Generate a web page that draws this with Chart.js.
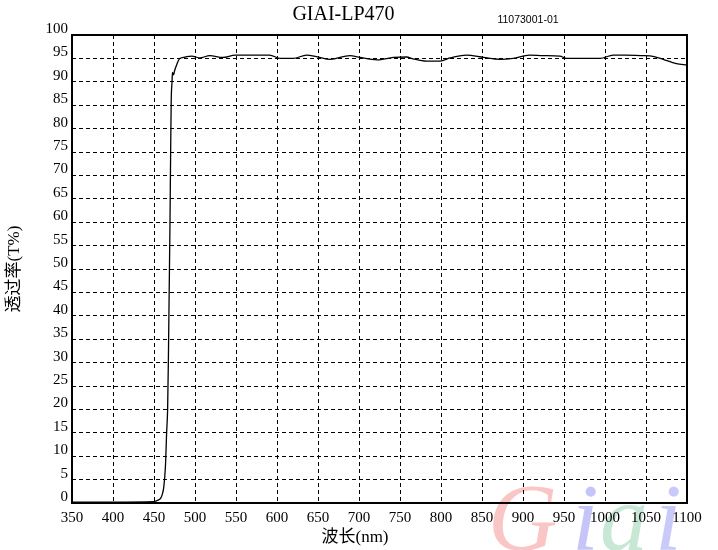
<!DOCTYPE html>
<html lang="zh-cn">
<head>
  <meta charset="UTF-8" />
  <title>GIAI-LP470</title>
  <script src="https://cdn.jsdelivr.net/npm/chart.js"></script>
  <style>
    body { margin: 0; background: #fff; }
  </style>
</head>
<body>
  <canvas id="grafico_transmissao" width="718" height="550"></canvas>
<script>
  // comprimento de onda (nm) e transmitancia (%)
  var comprimento_onda = [350, 400, 450, 455, 458, 460, 462, 464, 465.4, 466.6, 467.5, 468.5, 469.5, 470.3, 471, 472, 472.5, 474, 475, 478, 481, 486, 490, 496, 506, 518, 534, 549, 570, 591, 604, 620, 636, 648, 665, 689, 701, 722, 742, 758, 766, 782, 799, 811, 831, 852, 872, 888, 908, 925, 945, 953, 975, 994, 1010, 1025, 1043, 1060, 1071, 1087, 1100];
  var transmitancia = [0.2, 0.2, 0.3, 0.6, 1.0, 1.8, 3.5, 8, 15, 20, 30, 45, 60, 75, 86, 90, 92, 91.5, 92.3, 93.8, 94.9, 95.2, 95.4, 95.5, 95.1, 95.6, 95.2, 95.7, 95.7, 95.7, 95.0, 95.0, 95.7, 95.4, 94.8, 95.6, 95.2, 94.7, 95.2, 95.3, 94.9, 94.4, 94.4, 95.1, 95.7, 95.2, 94.8, 95.0, 95.7, 95.6, 95.5, 95.0, 95.0, 95.0, 95.7, 95.7, 95.6, 95.4, 94.8, 93.9, 93.6];

  var eixo_x_min = 350, eixo_x_max = 1100, eixo_x_passo = 50;
  var eixo_y_min = 0, eixo_y_max = 100, eixo_y_passo = 5;

  var titulo = "GIAI-LP470";
  var codigo = "11073001-01";
  var titulo_x = "波长(nm)";
  var titulo_y = "透过率(T%)";

  var fonte_serif = '"Liberation Serif", "Noto Sans CJK SC", serif';

  // marca d'agua "Giai" + textos extras
  const plugin_extras = {
    id: "extras",
    beforeDraw(chart) {
      const ctx = chart.ctx;
      ctx.save();
      ctx.textBaseline = "alphabetic";
      ctx.textAlign = "left";
      ctx.font = 'italic 96px "Liberation Serif", serif';
      ctx.fillStyle = "rgba(245, 150, 150, 0.55)";
      ctx.fillText("G", 488, 550);
      ctx.fillStyle = "rgba(140, 140, 245, 0.5)";
      ctx.fillText("i", 572, 550);
      ctx.fillStyle = "rgba(130, 205, 160, 0.45)";
      ctx.fillText("a", 600, 550);
      ctx.fillStyle = "rgba(150, 150, 245, 0.5)";
      ctx.fillText("i", 655, 550);
      ctx.restore();
    },
    afterDraw(chart) {
      const ctx = chart.ctx;
      const area = chart.chartArea;
      ctx.save();
      ctx.strokeStyle = "#000";
      ctx.lineWidth = 2;
      ctx.setLineDash([]);
      ctx.strokeRect(area.left, area.top, area.right - area.left, area.bottom - area.top);

      ctx.fillStyle = "#000";
      ctx.textAlign = "center";
      ctx.textBaseline = "middle";
      ctx.font = "17px " + fonte_serif;
      ctx.fillText(titulo_x, 355, 538);

      ctx.font = '10.5px "Liberation Sans", sans-serif';
      ctx.fillText(codigo, 528, 20);
      ctx.restore();
    }
  };

  function cor_grade(valor, min, max) {
    if (valor === min || valor === max) return "rgba(0,0,0,0)";
    return "#000";
  }

  function criar_grafico() {
    const canvas = document.getElementById("grafico_transmissao");
    const pontos = comprimento_onda.map((x, i) => ({ x: x, y: transmitancia[i] }));

    new Chart(canvas, {
      type: "line",
      data: {
        datasets: [
          {
            label: titulo,
            data: pontos,
            borderColor: "#000",
            borderWidth: 1.3,
            pointRadius: 0,
            fill: false,
            cubicInterpolationMode: "monotone",
          },
        ],
      },
      options: {
        responsive: false,
        animation: false,
        layout: { padding: { top: 0, right: 31, bottom: 0, left: 0 } },
        plugins: {
          legend: { display: false },
          tooltip: { enabled: false },
          title: {
            display: true,
            text: titulo,
            color: "#000",
            font: { family: fonte_serif, size: 20, weight: "normal" },
            padding: { top: 3, bottom: 8 },
          },
        },
        scales: {
          x: {
            type: "linear",
            min: eixo_x_min,
            max: eixo_x_max,
            afterFit: (s) => { s.height = 47; },
            afterBuildTicks: (s) => {
              s.ticks = [];
              for (let v = eixo_x_min; v <= eixo_x_max; v += eixo_x_passo) s.ticks.push({ value: v });
            },
            ticks: {
              color: "#000",
              font: { family: fonte_serif, size: 15 },
              padding: 6,
              maxRotation: 0,
              autoSkip: false,
              callback: (v) => String(v),
            },
            grid: {
              color: (c) => cor_grade(c.tick && c.tick.value, eixo_x_min, eixo_x_max),
              drawTicks: false,
              lineWidth: 1,
            },
            border: { display: false, dash: [4, 3] },
          },
          y: {
            min: eixo_y_min,
            max: eixo_y_max,
            afterFit: (s) => { s.width = 72; },
            afterBuildTicks: (s) => {
              s.ticks = [];
              for (let v = eixo_y_min; v <= eixo_y_max; v += eixo_y_passo) s.ticks.push({ value: v });
            },
            ticks: {
              color: "#000",
              font: { family: fonte_serif, size: 15 },
              padding: 4,
              labelOffset: -6,
              autoSkip: false,
              callback: (v) => String(v),
            },
            grid: {
              color: (c) => cor_grade(c.tick && c.tick.value, eixo_y_min, eixo_y_max),
              drawTicks: false,
              lineWidth: 1,
            },
            border: { display: false, dash: [4, 3] },
            title: {
              display: true,
              text: titulo_y,
              color: "#000",
              font: { family: fonte_serif, size: 17 },
              padding: { top: 4, bottom: 0 },
            },
          },
        },
      },
      plugins: [plugin_extras],
    });
  }

  criar_grafico();
</script>
</body>
</html>
